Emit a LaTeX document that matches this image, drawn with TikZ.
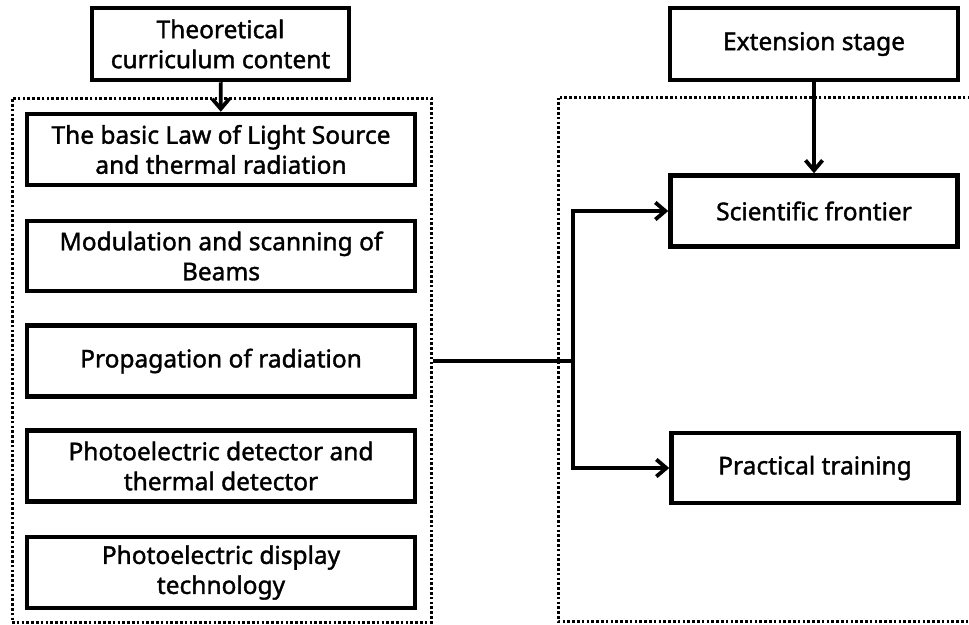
\documentclass[tikz,border=0pt]{standalone}
\usepackage{fontspec}
\setmainfont{Noto Sans}[FakeBold=1.5]
\usetikzlibrary{arrows.meta}

\tikzset{
  stagebox/.style={draw, line width=4.5pt, align=center, inner sep=0pt,
    font=\fontsize{24.5}{30}\selectfont},
  groupframe/.style={draw, line width=3pt, dash pattern=on 2.6pt off 2.2pt},
  flow/.style={line width=3.8pt, -{Straight Barb[length=10pt,width=17pt,line width=3.8pt]}},
}

\begin{document}
\begin{tikzpicture}[x=1pt, y=-1pt]

    \useasboundingbox (0,0) rectangle (969,624);

    % left group: theory content
    \node[groupframe, minimum width=419pt, minimum height=524pt] (leftgroup) at (221.5,360) {};

    \node[stagebox, minimum width=257pt, minimum height=72pt] (theory) at (220.5,44) {Theoretical\\curriculum content};

    \node[stagebox, minimum width=388pt, minimum height=71pt] (lightsrc) at (221,149.5) {The basic Law of Light Source\\and thermal radiation};
    \node[stagebox, minimum width=388pt, minimum height=70pt] (modulation) at (221,256) {Modulation and scanning of\\Beams};
    \node[stagebox, minimum width=388pt, minimum height=71pt] (propagation) at (221,361) {Propagation of radiation};
    \node[stagebox, minimum width=388pt, minimum height=71pt] (detector) at (221,466) {Photoelectric detector and\\thermal detector};
    \node[stagebox, minimum width=388pt, minimum height=71pt] (display) at (221,572.5) {Photoelectric display\\technology};

    \draw[flow] (theory) -- (lightsrc);

    % right group: extension
    \draw[groupframe] (975,97) -- (558,97) -- (558,621) -- (975,621);

    \node[stagebox, minimum width=288pt, minimum height=72pt] (extension) at (814,44) {Extension stage};
    \node[stagebox, minimum width=287pt, minimum height=71pt] (frontier) at (814,211) {Scientific frontier};
    \node[stagebox, minimum width=287pt, minimum height=70pt] (practical) at (815,468) {Practical training};

    \draw[flow] (extension) -- (frontier);

    % branch between the groups
    \coordinate (split) at (573,361);
    \draw[line width=3.8pt] (leftgroup.east |- split) -- (split);
    \draw[flow] (split) |- (frontier.west);
    \draw[flow] (split) |- (practical.west);

\end{tikzpicture}
\end{document}
